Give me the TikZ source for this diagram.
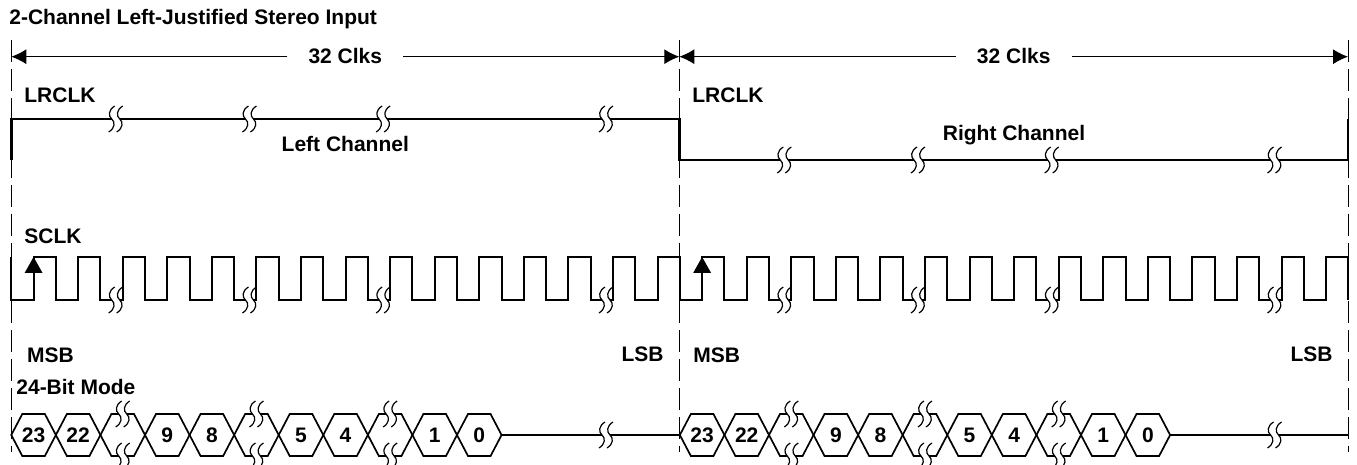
\documentclass[tikz,border=0pt]{standalone}
\usepackage{fontspec}
\setmainfont{Liberation Sans}
\usetikzlibrary{arrows.meta}
\tikzset{
 lbl/.style={font=\bfseries\fontsize{10.5}{12}\selectfont,inner sep=0pt},
 bit/.style={font=\bfseries\fontsize{10.5}{12}\selectfont,inner sep=0pt},
 guide/.style={line width=0.5pt,dash pattern=on 11pt off 3.5pt},
 dim/.style={line width=0.5pt,-{Latex[length=7.5pt,width=7.5pt]}},
 lrwave/.style={line width=1.4pt},
 sclkwave/.style={line width=1pt},
 bus/.style={line width=0.85pt},
 brk/.pic={
  \fill[white] (-4,-2.6) rectangle (4,2.6);
  \foreach \d in {-4,4}
   \draw[line width=0.6pt] (\d+3,-13) .. controls (\d-3.5,-9) and (\d-3.5,-3) .. (\d,0) .. controls (\d+3.5,3) and (\d+3.5,9) .. (\d-3,13);
 }
}
\begin{document}
\begin{tikzpicture}[x=0.5pt,y=-0.5pt]
 \useasboundingbox (0,0) rectangle (1357,465);
 \foreach \x in {11.3,679.3,1348} \draw[guide] (\x,40) -- (\x,452);
 \node[lbl,anchor=base west] (title) at (9,25) {2-Channel Left-Justified Stereo Input};
 \node[lbl,anchor=base,inner xsep=10.5pt] (clksL) at (345.3,63.3) {32 Clks};
 \node[lbl,anchor=base,inner xsep=10.5pt] (clksR) at (1013.7,63.3) {32 Clks};
 \coordinate (aL) at (11.3,56.7);
 \coordinate (aM) at (679.3,56.7);
 \coordinate (aR) at (1348,56.7);
 \draw[dim] (aL -| clksL.west) -- (aL);
 \draw[dim] (aL -| clksL.east) -- (aM);
 \draw[dim] (aM -| clksR.west) -- (aM);
 \draw[dim] (aM -| clksR.east) -- (aR);
 \node[lbl,anchor=base west] (lrL) at (24,103) {LRCLK};
 \node[lbl,anchor=base west] (lrR) at (692,103) {LRCLK};
 \node[lbl,anchor=base] (leftch) at (345.3,151.7) {Left Channel};
 \node[lbl,anchor=base] (rightch) at (1014,141) {Right Channel};
 \node[lbl,anchor=base west] (sclk) at (24,243) {SCLK};
 \node[lbl,anchor=base west] (msbL) at (26.7,362.3) {MSB};
 \node[lbl,anchor=base east] (lsbL) at (664,361) {LSB};
 \node[lbl,anchor=base west] (msbR) at (693,362.3) {MSB};
 \node[lbl,anchor=base east] (lsbR) at (1333,361) {LSB};
 \node[lbl,anchor=base west] (mode) at (16,394.3) {24-Bit Mode};
 \draw[lrwave] (11.3,160) -- (11.3,119) -- (679.3,119) -- (679.3,160) -- (1348,160) -- (1348,119);
 \draw[sclkwave] (11.3,257) -- (11.3,300) \foreach \k in {0,...,29} {-- ++(22.285,0) -- ++(0,-43) -- ++(22.285,0) -- ++(0,43)};
 \foreach \k in {0,15} \fill ({33.585+44.57*\k},257) -- ++(-9,16) -- ++(18,0) -- cycle;
 \foreach \j in {0,...,10,15,16,...,25}
  \draw[bus] ({11.3+44.57*\j},435) -- ++(11,-21) -- ++(22.57,0) -- ++(11,21) -- ++(-11,21) -- ++(-22.57,0) -- cycle;
 \foreach \j/\v in {0/23,1/22,3/9,4/8,6/5,7/4,9/1,10/0,15/23,16/22,18/9,19/8,21/5,22/4,24/1,25/0}
  \node[bit] (d\j) at ({33.585+44.57*\j},435) {\v};
 \draw[bus] ({11.3+44.57*11},435) -- (679.3,435);
 \draw[bus] ({11.3+44.57*26},435) -- (1348,435);
 \foreach \k in {2,5,8,13} {
  \pic at ({26.585+44.57*\k},119) {brk};
  \pic at ({26.585+44.57*\k},300) {brk};
 }
 \foreach \k in {17,20,23,28} {
  \pic at ({26.585+44.57*\k},160) {brk};
  \pic at ({26.585+44.57*\k},300) {brk};
 }
 \foreach \k in {13,28} \pic at ({26.585+44.57*\k},435) {brk};
 \foreach \j in {2,5,8,17,20,23} {
  \pic at ({33.585+44.57*\j},414) {brk};
  \pic at ({33.585+44.57*\j},456) {brk};
 }
\end{tikzpicture}
\end{document}
